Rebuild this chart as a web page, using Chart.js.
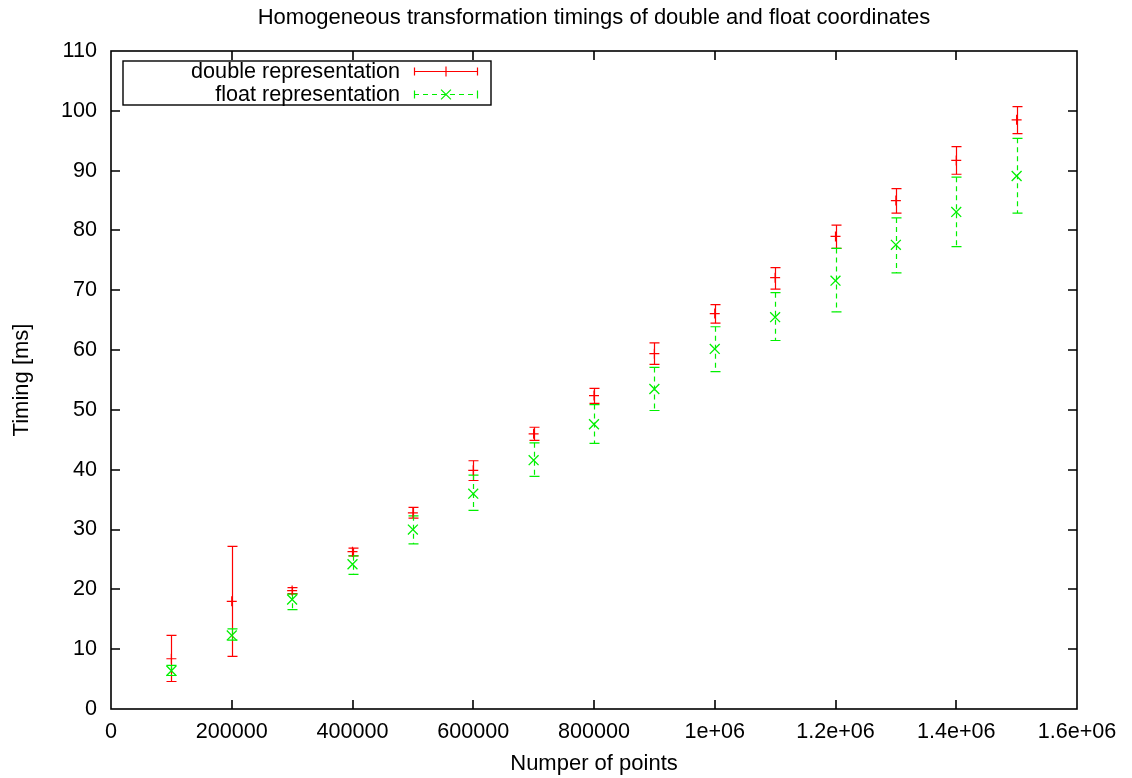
<!DOCTYPE html>
<html>
<head>
<meta charset="utf-8">
<title>Homogeneous transformation timings</title>
<script src="https://cdn.jsdelivr.net/npm/chart.js@4.4.1/dist/chart.umd.min.js"></script>
<style>
  html, body { margin: 0; padding: 0; background: #fff; }
  #wrap { width: 1132px; height: 778px; }
</style>
</head>
<body>
<div id="wrap"><canvas id="timings"></canvas></div>
<script>
// number of points per run
const pointCounts = [100000, 200000, 300000, 400000, 500000, 600000, 700000, 800000,
                     900000, 1000000, 1100000, 1200000, 1300000, 1400000, 1500000];

// double coordinates: mean, min, max [ms]
const doubleMean = [8.4, 18.0, 19.8, 26.3, 32.8, 39.9, 46.0, 52.4, 59.4, 66.1, 72.1, 79.0, 85.0, 91.7, 98.5];
const doubleLow  = [4.6, 8.8, 19.3, 25.6, 31.9, 38.2, 44.9, 51.1, 57.6, 64.5, 70.2, 77.0, 82.9, 89.4, 96.2];
const doubleHigh = [12.3, 27.2, 20.3, 26.9, 33.7, 41.5, 47.1, 53.6, 61.2, 67.6, 73.8, 80.9, 87.0, 94.0, 100.7];

// float coordinates: mean, min, max [ms]
const floatMean = [6.4, 12.3, 18.3, 24.2, 30.0, 36.0, 41.6, 47.6, 53.5, 60.2, 65.5, 71.6, 77.6, 83.1, 89.1];
const floatLow  = [5.6, 11.5, 16.6, 22.5, 27.6, 33.2, 38.9, 44.4, 49.9, 56.4, 61.6, 66.4, 72.9, 77.3, 82.9];
const floatHigh = [7.3, 13.4, 19.2, 25.6, 32.3, 39.1, 44.5, 50.9, 57.1, 63.9, 69.6, 77.0, 82.1, 88.9, 95.4];

const FONT = 'Liberation Sans, Arial, sans-serif';
const RED = '#ff0000';
const GREEN = '#00f000';

function toPoints(means, lows, highs) {
  return pointCounts.map((n, i) => ({ x: n, y: means[i], lo: lows[i], hi: highs[i] }));
}

// gnuplot style tick text: 1e+06, 1.2e+06 ...
function formatCount(v) {
  if (v >= 1000000) {
    return (Math.round(v / 100000) / 10) + 'e+06';
  }
  return String(v);
}

// vertical error bars with caps, drawn under the point markers
const errorBars = {
  id: 'errorBars',
  beforeDatasetsDraw(chart) {
    const ctx = chart.ctx;
    const xs = chart.scales.x, ys = chart.scales.y;
    const cap = 5;
    chart.data.datasets.forEach((ds) => {
      ctx.save();
      ctx.strokeStyle = ds.borderColor;
      ctx.lineWidth = 1.2;
      ds.data.forEach((p) => {
        const px = Math.round(xs.getPixelForValue(p.x)) + 0.5;
        const top = ys.getPixelForValue(p.hi);
        const bot = ys.getPixelForValue(p.lo);
        ctx.setLineDash(ds.errDash || []);
        ctx.beginPath();
        ctx.moveTo(px, top);
        ctx.lineTo(px, bot);
        ctx.stroke();
        ctx.setLineDash([]);
        ctx.beginPath();
        ctx.moveTo(px - cap, top);
        ctx.lineTo(px + cap, top);
        ctx.moveTo(px - cap, bot);
        ctx.lineTo(px + cap, bot);
        ctx.stroke();
      });
      ctx.restore();
    });
  }
};

// plot frame with inward ticks on all four sides
const frame = {
  id: 'frame',
  afterDraw(chart) {
    const ctx = chart.ctx;
    const a = chart.chartArea;
    const xs = chart.scales.x, ys = chart.scales.y;
    const len = 9;
    ctx.save();
    ctx.strokeStyle = '#000';
    ctx.lineWidth = 1.6;
    ctx.beginPath();
    xs.ticks.forEach((t, i) => {
      const px = Math.round(xs.getPixelForTick(i));
      if (px <= a.left + 1 || px >= a.right - 1) return;
      ctx.moveTo(px, a.bottom);
      ctx.lineTo(px, a.bottom - len);
      ctx.moveTo(px, a.top);
      ctx.lineTo(px, a.top + len);
    });
    ys.ticks.forEach((t, i) => {
      const py = Math.round(ys.getPixelForTick(i));
      if (py <= a.top + 1 || py >= a.bottom - 1) return;
      ctx.moveTo(a.left, py);
      ctx.lineTo(a.left + len, py);
      ctx.moveTo(a.right, py);
      ctx.lineTo(a.right - len, py);
    });
    ctx.stroke();
    ctx.strokeRect(a.left, a.top, a.right - a.left, a.bottom - a.top);
    ctx.restore();
  }
};

// boxed key in the upper left corner
const keyBox = {
  id: 'keyBox',
  afterDraw(chart) {
    const ctx = chart.ctx;
    const box = { left: 123, top: 61, right: 491, bottom: 105 };
    const textRight = 400, sx0 = 414, sx1 = 478;
    const rows = [71, 94];
    ctx.save();
    ctx.strokeStyle = '#000';
    ctx.lineWidth = 1.4;
    ctx.strokeRect(box.left, box.top, box.right - box.left, box.bottom - box.top);
    ctx.font = '21.6px ' + FONT;
    ctx.textAlign = 'right';
    ctx.textBaseline = 'middle';
    chart.data.datasets.forEach((ds, i) => {
      const y = rows[i] + 0.5;
      ctx.fillStyle = '#000';
      ctx.fillText(ds.label, textRight, y + 1);
      ctx.strokeStyle = ds.borderColor;
      ctx.lineWidth = 1.2;
      ctx.setLineDash(ds.errDash || []);
      ctx.beginPath();
      ctx.moveTo(sx0, y);
      ctx.lineTo(sx1, y);
      ctx.stroke();
      ctx.setLineDash([]);
      ctx.beginPath();
      ctx.moveTo(sx0 + 0.5, y - 4);
      ctx.lineTo(sx0 + 0.5, y + 4);
      ctx.moveTo(sx1 - 0.5, y - 4);
      ctx.lineTo(sx1 - 0.5, y + 4);
      ctx.stroke();
      const mx = (sx0 + sx1) / 2;
      Chart.helpers.drawPoint(ctx, {
        pointStyle: ds.pointStyle,
        radius: ds.pointRadius,
        borderWidth: 1.2
      }, mx, y);
    });
    ctx.restore();
  }
};

new Chart(document.getElementById('timings'), {
  type: 'scatter',
  data: {
    datasets: [
      {
        label: 'double representation',
        data: toPoints(doubleMean, doubleLow, doubleHigh),
        borderColor: RED,
        backgroundColor: RED,
        pointStyle: 'cross',
        pointRadius: 5,
        pointBorderWidth: 1.2,
        errDash: []
      },
      {
        label: 'float representation',
        data: toPoints(floatMean, floatLow, floatHigh),
        borderColor: GREEN,
        backgroundColor: GREEN,
        pointStyle: 'crossRot',
        pointRadius: 7,
        pointBorderWidth: 1.3,
        errDash: [5, 4]
      }
    ]
  },
  options: {
    responsive: true,
    maintainAspectRatio: false,
    animation: false,
    layout: { padding: { left: 0, right: 55, top: 0, bottom: 0 } },
    plugins: {
      legend: { display: false },
      tooltip: { enabled: false },
      title: {
        display: true,
        fullSize: false,
        text: 'Homogeneous transformation timings of double and float coordinates',
        color: '#000',
        font: { family: FONT, size: 22, weight: 'normal', lineHeight: 1.2 },
        padding: { top: 5, bottom: 19.6 }
      }
    },
    scales: {
      x: {
        type: 'linear',
        min: 0,
        max: 1600000,
        grid: { display: false, drawTicks: false },
        border: { display: false },
        ticks: {
          stepSize: 200000,
          color: '#000',
          padding: 10,
          maxRotation: 0,
          font: { family: FONT, size: 21.6 },
          callback: (v) => formatCount(v)
        },
        title: {
          display: true,
          text: 'Numper of points',
          color: '#000',
          font: { family: FONT, size: 22, lineHeight: 1.2 },
          padding: { top: 0, bottom: 1 }
        },
        afterFit: (s) => { s.height = 69; }
      },
      y: {
        min: 0,
        max: 110,
        grid: { display: false, drawTicks: false },
        border: { display: false },
        ticks: {
          stepSize: 10,
          color: '#000',
          padding: 14,
          font: { family: FONT, size: 21.6 }
        },
        title: {
          display: true,
          text: 'Timing [ms]',
          color: '#000',
          font: { family: FONT, size: 22, lineHeight: 1.2 },
          padding: { top: 9, bottom: 0 }
        },
        afterFit: (s) => { s.width = 111; }
      }
    }
  },
  plugins: [errorBars, frame, keyBox]
});
</script>
</body>
</html>
